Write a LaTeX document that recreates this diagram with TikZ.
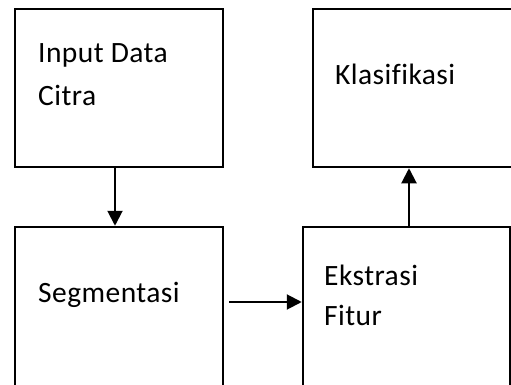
\documentclass[tikz,border=0pt]{standalone}
\usepackage{fontspec}
\setmainfont{Carlito}[LetterSpace=1.5,Ligatures=NoCommon]
\usetikzlibrary{arrows.meta,calc}

\begin{document}
\begin{tikzpicture}[x=1pt, y=-1pt,
    box/.style={draw, rectangle, line width=2.5pt, inner sep=0pt},
    arrow/.style={line width=2pt, -{Triangle[length=15pt,width=15pt]}},
    txt/.style={anchor=base west, inner sep=0pt, font=\fontsize{29.5}{34}\selectfont}]
        \useasboundingbox (0,0) rectangle (511,385);
        \clip (0,0) rectangle (511,385);

        % coordinates
        \coordinate (t1) at (38,63);
        \coordinate (t2) at (38,106);
        \coordinate (t3) at (335,85);
        \coordinate (t4) at (38,302);
        \coordinate (t5) at (324,285);
        \coordinate (t6) at (324,325);

        % boxes
        \node[box, minimum width=208pt, minimum height=158pt] (input) at (119,88) {};
        \node[box, minimum width=202pt, minimum height=158pt] (klasifikasi) at (414,88) {};
        \node[box, minimum width=208pt, minimum height=165pt] (segmentasi) at (119,309.5) {};
        \node[box, minimum width=207pt, minimum height=165pt] (ekstrasi) at (406.5,309.5) {};

        % arrows
        \draw[arrow] ([xshift=-4pt]input.south) -- ([xshift=-4pt]segmentasi.north);
        \draw[arrow] ([shift={(5pt,7.5pt)}]segmentasi.east) -- ([yshift=7.5pt]ekstrasi.west);
        \draw[arrow] ([xshift=2.5pt]ekstrasi.north) -- ([xshift=2.5pt]ekstrasi.north |- klasifikasi.south);

        % Text
        \node[txt] (input1) at (t1) {Input Data};
        \node[txt] (input2) at (t2) {Citra};
        \node[txt] (klas) at (t3) {Klasifikasi};
        \node[txt] (segm) at (t4) {Segmentasi};
        \node[txt] (ekst1) at (t5) {Ekstrasi};
        \node[txt] (ekst2) at (t6) {Fitur};

\end{tikzpicture}
\end{document}
